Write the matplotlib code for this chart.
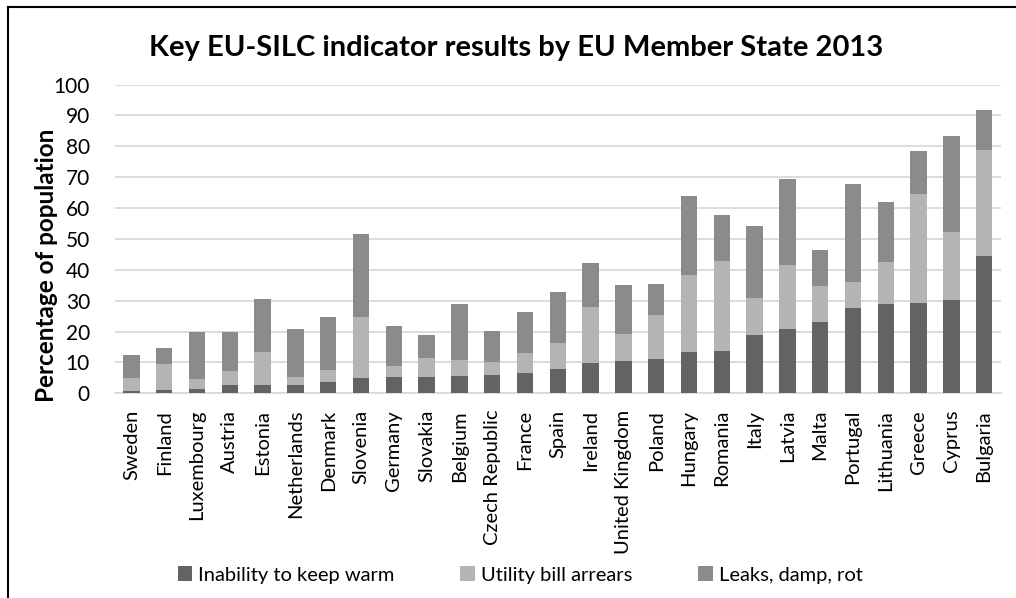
import numpy as np
import matplotlib.pyplot as plt

countries = ['Sweden', 'Finland', 'Luxembourg', 'Austria', 'Estonia', 'Netherlands',
             'Denmark', 'Slovenia', 'Germany', 'Slovakia', 'Belgium', 'Czech Republic',
             'France', 'Spain', 'Ireland', 'United Kingdom', 'Poland', 'Hungary',
             'Romania', 'Italy', 'Latvia', 'Malta', 'Portugal', 'Lithuania', 'Greece',
             'Cyprus', 'Bulgaria']

# values (segment heights)
keep_warm = [0.9, 1.2, 1.5, 2.6, 2.8, 2.8, 3.8, 4.8, 5.2, 5.4, 5.7, 6.0, 6.7, 8.0,
             9.8, 10.5, 11.1, 13.4, 13.8, 18.8, 20.8, 23.0, 27.6, 28.9, 29.2, 30.2, 44.6]
arrears = [4.1, 8.3, 3.1, 4.7, 10.7, 2.5, 3.8, 20.0, 3.8, 5.9, 5.1, 4.1, 6.4, 8.3,
           18.1, 8.7, 14.3, 24.9, 29.2, 12.2, 20.9, 11.6, 8.4, 13.5, 35.2, 22.1, 34.2]
leaks = [7.4, 5.2, 15.4, 12.4, 17.2, 15.5, 17.0, 26.7, 12.9, 7.5, 18.1, 10.1, 13.1, 16.6,
         14.2, 16.0, 10.1, 25.6, 14.9, 23.1, 27.7, 11.8, 31.8, 19.7, 14.1, 31.1, 12.9]

series_names = ['Inability to keep warm', 'Utility bill arrears', 'Leaks, damp, rot']
colors = ['#636363', '#b4b4b4', '#8b8b8b']

plt.rcParams['font.family'] = ['Lato', 'DejaVu Sans']

fig = plt.figure(figsize=(10.16, 5.98), dpi=100)
ax = fig.add_axes([115 / 1016, 1 - 393.3 / 598, 885.5 / 1016, 308.7 / 598])

x = np.arange(len(countries))
kw = np.array(keep_warm)
ar = np.array(arrears)
lk = np.array(leaks)
ax.bar(x, kw, 0.5, color=colors[0], label=series_names[0], zorder=3)
ax.bar(x, ar, 0.5, bottom=kw, color=colors[1], label=series_names[1], zorder=3)
ax.bar(x, lk, 0.5, bottom=kw + ar, color=colors[2], label=series_names[2], zorder=3)

ax.set_xlim(-0.5, len(countries) - 0.5)
ax.set_ylim(0, 100)
ax.set_yticks(np.arange(0, 101, 10))
ax.yaxis.grid(True, color='#d9d9d9', linewidth=1.3, zorder=0)
ax.set_axisbelow(True)
for s in ['top', 'right', 'left']:
    ax.spines[s].set_visible(False)
ax.spines['bottom'].set_color('#d9d9d9')
ax.spines['bottom'].set_linewidth(1.3)
ax.tick_params(axis='y', length=0, pad=18, labelsize=15)
ax.tick_params(axis='x', length=0, pad=12, labelsize=14.5)
ax.set_xticks(x)
ax.set_xticklabels(countries, rotation=90)

fig.text(47 / 1016, 1 - 265 / 598, 'Percentage of population', rotation=90,
         ha='center', va='center', fontsize=17.5, fontweight='bold')
fig.text(516 / 1016, 1 - 48 / 598, 'Key EU-SILC indicator results by EU Member State 2013',
         ha='center', va='center', fontsize=21, fontweight='bold')

fig.legend(loc='center', bbox_to_anchor=(520 / 1016, 1 - 575 / 598), ncol=3,
           frameon=False, fontsize=14.5, handlelength=0.7, handleheight=0.7,
           handletextpad=0.3, columnspacing=3.3)

# chart border (top and left visible in original)
fig.add_artist(plt.Line2D([8 / 1016, 8 / 1016], [0, 1 - 7 / 598], color='black', linewidth=1.5))
fig.add_artist(plt.Line2D([8 / 1016, 1], [1 - 7 / 598, 1 - 7 / 598], color='black', linewidth=1.5))

fig.savefig('out.png', dpi=100)
